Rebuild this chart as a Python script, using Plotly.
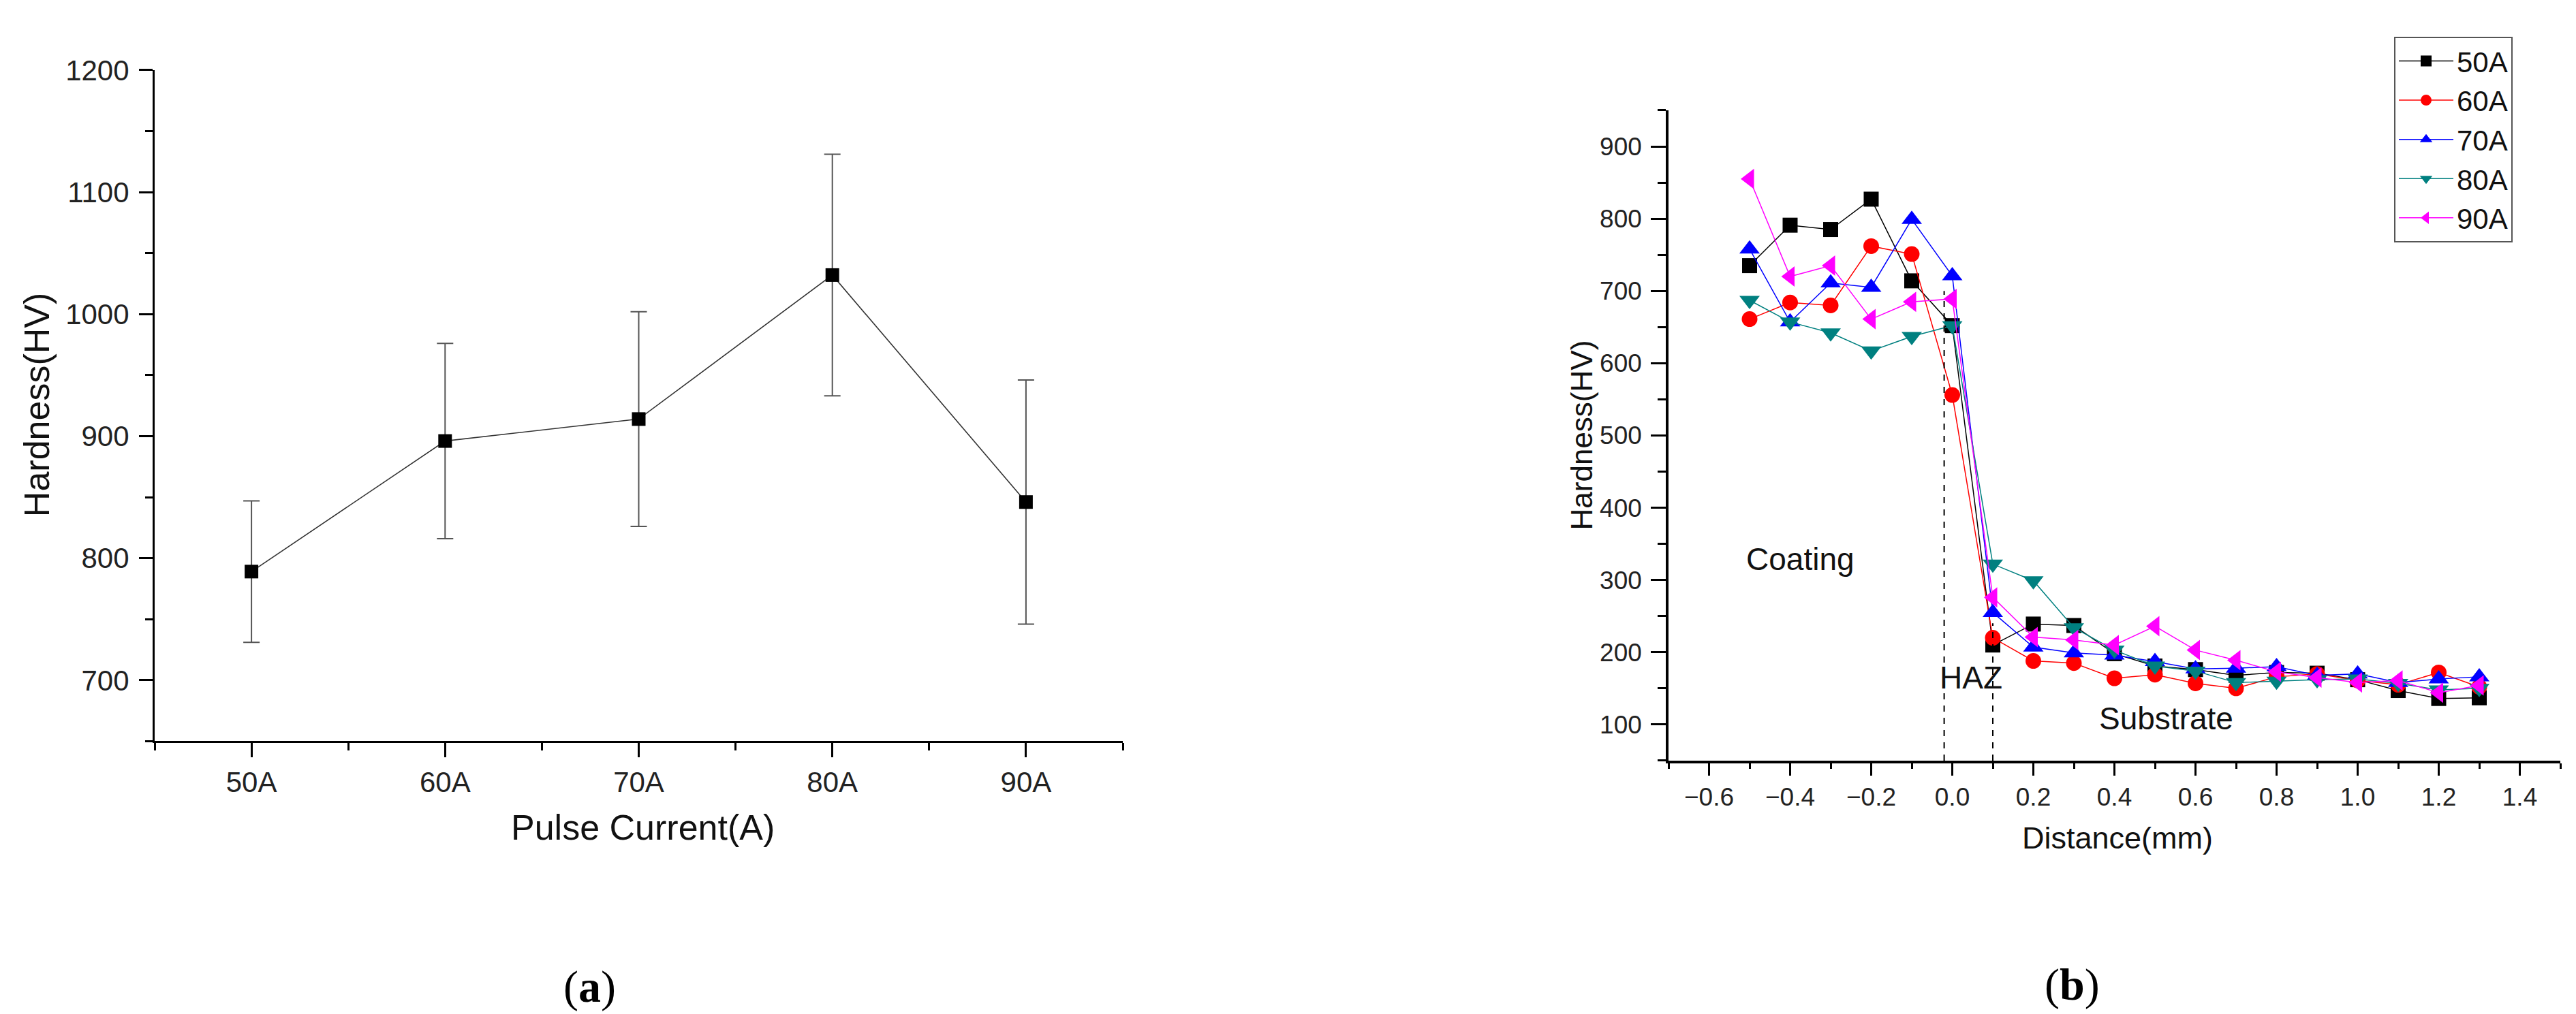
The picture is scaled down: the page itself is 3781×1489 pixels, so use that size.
import plotly.graph_objects as go

# ---------------- data: panel (a) ----------------
currents = ["50A", "60A", "70A", "80A", "90A"]
mean_hardness = [789, 896, 914, 1032, 846]
hardness_err = [58, 80, 88, 99, 100]

# ---------------- data: panel (b) ----------------
distance = [-0.5, -0.4, -0.3, -0.2, -0.1, 0.0, 0.1, 0.2, 0.3, 0.4,
            0.5, 0.6, 0.7, 0.8, 0.9, 1.0, 1.1, 1.2, 1.3]
h50 = [735, 791, 785, 827, 714, 652, 210, 239, 237, 198, 181, 176, 168, 172, 171, 162, 147, 136, 137]
h60 = [661, 684, 680, 762, 751, 556, 220, 188, 185, 164, 169, 157, 150, 166, 170, 161, 155, 172, 152]
h70 = [758, 657, 711, 705, 799, 721, 255, 207, 199, 196, 187, 177, 178, 180, 168, 170, 158, 163, 166]
h80 = [687, 657, 642, 617, 637, 652, 322, 299, 234, 203, 181, 174, 158, 160, 162, 163, 157, 148, 150]
h90 = [855, 720, 735, 661, 685, 689, 276, 221, 217, 210, 236, 203, 189, 173, 165, 158, 161, 144, 154]
series_names = ["50A", "60A", "70A", "80A", "90A"]
series_values = [h50, h60, h70, h80, h90]

# HAZ boundary dashed lines
haz_x = [-0.02, 0.1]
haz_top = [700, 240]
haz_bottom = 50

# region labels (text, x, y)
region_labels = [("Coating", -0.374, 329), ("HAZ", 0.046, 165), ("Substrate", 0.528, 108)]

# ---------------- style ----------------
W, H = 3781, 1489
FONT = "Arial, Liberation Sans, sans-serif"
SERIF = "Liberation Serif, Times New Roman, serif"
colors = ["#000000", "#FF0000", "#0000FF", "#008080", "#FF00FF"]
symbols = ["square", "circle", "triangle-up", "triangle-down", "triangle-left"]
msizes = [22, 23, 26, 26, 26]


def px_x(p):
    return p / W


def px_y(p):
    return 1 - p / H


fig = go.Figure()

# panel (a)
fig.add_trace(go.Scatter(
    x=list(range(len(currents))), y=mean_hardness,
    mode="lines+markers",
    line=dict(color="#333333", width=1.6),
    marker=dict(symbol="square", size=20, color="#000000"),
    error_y=dict(type="data", array=hardness_err, visible=True,
                 color="#555555", thickness=2, width=12),
    xaxis="x", yaxis="y", showlegend=False,
))

# panel (b)
for name, vals, c, s, ms in zip(series_names, series_values, colors, symbols, msizes):
    fig.add_trace(go.Scatter(
        x=distance, y=vals, name=name,
        mode="lines+markers",
        line=dict(color=c, width=1.5),
        marker=dict(symbol=s, size=ms, color=c),
        xaxis="x2", yaxis="y2",
    ))

for hx, ht in zip(haz_x, haz_top):
    fig.add_trace(go.Scatter(
        x=[hx, hx], y=[haz_bottom, ht], mode="lines",
        line=dict(color="#000000", width=2, dash="dash"),
        xaxis="x2", yaxis="y2", showlegend=False, hoverinfo="skip",
    ))

annotations = []
for txt, ax_, ay_ in region_labels:
    annotations.append(dict(text=txt, x=ax_, y=ay_, xref="x2", yref="y2",
                            xanchor="center", yanchor="middle",
                            showarrow=False, font=dict(size=46, color="#111111", family=FONT)))


def paper_text(txt, x, y, size, family=FONT, angle=0, color="#111111"):
    return dict(text=txt, x=px_x(x), y=px_y(y), xref="paper", yref="paper",
                xanchor="center", yanchor="middle", textangle=angle,
                showarrow=False, font=dict(size=size, color=color, family=family))


annotations += [
    paper_text("Pulse Current(A)", 935, 1203, 52),
    paper_text("Hardness(HV)", 46, 573, 52, angle=-90),
    paper_text("Distance(mm)", 3100, 1218, 45),
    paper_text("Hardness(HV)", 2313, 618, 44, angle=-90),
    paper_text("(<b>a</b>)", 857, 1440, 66, family=SERIF, color="#000000"),
    paper_text("(<b>b</b>)", 3033, 1437, 66, family=SERIF, color="#000000"),
]

axis_common = dict(showline=True, linecolor="#000000", ticks="outside", tickcolor="#000000",
                   showgrid=False, zeroline=False, mirror=False)

fig.update_layout(
    width=W, height=H, autosize=False,
    margin=dict(l=0, r=0, t=0, b=0),
    paper_bgcolor="white", plot_bgcolor="white",
    font=dict(family=FONT, color="#222222"),
    xaxis=dict(**axis_common, domain=[px_x(219), px_x(1640)], range=[-0.5, 4.5],
               tickmode="array", tickvals=list(range(len(currents))), ticktext=currents,
               linewidth=3, ticklen=21, tickwidth=3,
               tickfont=dict(size=42, color="#222222"),
               minor=dict(tickmode="linear", tick0=-0.5, dtick=1, ticks="outside",
                          ticklen=11, tickwidth=3, tickcolor="#000000"),
               anchor="y"),
    yaxis=dict(**axis_common, domain=[px_y(1074), px_y(73)], range=[650, 1200],
               tick0=700, dtick=100, linewidth=3, ticklen=20, tickwidth=3,
               ticklabelstandoff=6,
               tickfont=dict(size=42, color="#222222"),
               minor=dict(tick0=650, dtick=50, ticks="outside", ticklen=11, tickwidth=3,
                          tickcolor="#000000"),
               anchor="x"),
    xaxis2=dict(**axis_common, domain=[px_x(2441), px_x(3750)], range=[-0.7, 1.5],
                tick0=0, dtick=0.2, tickformat=".1f", linewidth=3.5, ticklen=18, tickwidth=3,
                tickfont=dict(size=37, color="#222222"),
                minor=dict(tick0=0, dtick=0.1, ticks="outside", ticklen=8, tickwidth=3,
                           tickcolor="#000000"),
                anchor="y2"),
    yaxis2=dict(**axis_common, domain=[px_y(1103), px_y(133)], range=[50, 950],
                tick0=100, dtick=100, linewidth=3.5, ticklen=22, tickwidth=3,
                ticklabelstandoff=6,
                tickfont=dict(size=37, color="#222222"),
                minor=dict(tick0=50, dtick=50, ticks="outside", ticklen=12, tickwidth=3,
                           tickcolor="#000000"),
                anchor="x2"),
    legend=dict(x=px_x(3506), y=px_y(23), xanchor="left", yanchor="top",
                bordercolor="#555555", borderwidth=2, bgcolor="white",
                font=dict(size=42, color="#111111", family=FONT),
                itemwidth=80, tracegroupgap=0),
    annotations=annotations,
)

fig.write_html("out.html")
